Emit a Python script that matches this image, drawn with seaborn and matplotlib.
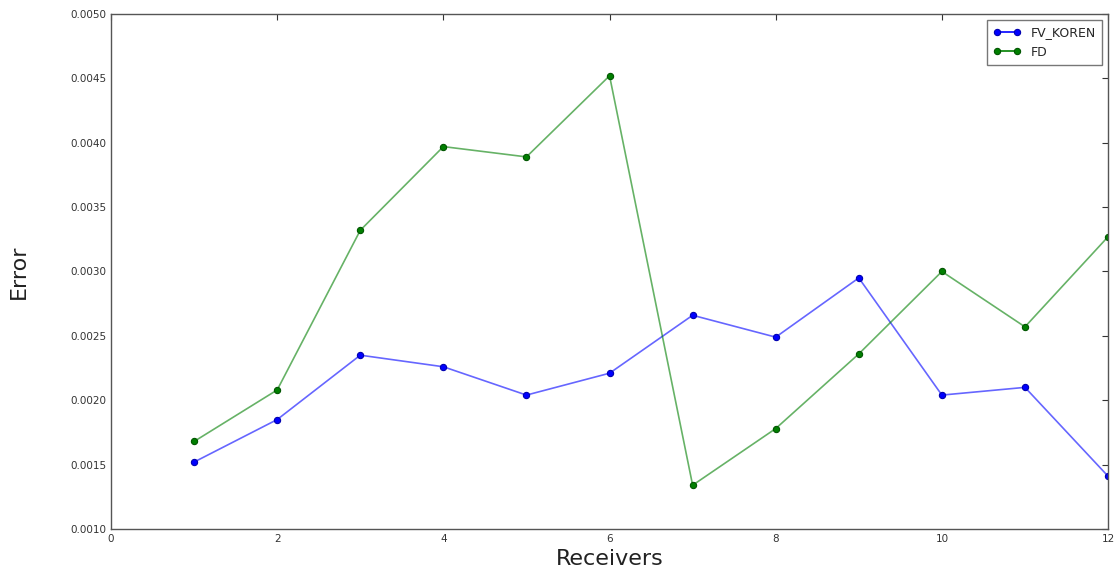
import pandas as pd
import seaborn as sns
import matplotlib.pyplot as plt

# Receiver index and error per method
receivers = [1, 2, 3, 4, 5, 6, 7, 8, 9, 10, 11, 12]
fv_koren = [0.00152, 0.00185, 0.00235, 0.00226, 0.00204, 0.00221,
            0.00266, 0.00249, 0.00295, 0.00204, 0.00210, 0.00141]
fd = [0.00168, 0.00208, 0.00332, 0.00397, 0.00389, 0.00452,
      0.00134, 0.00178, 0.00236, 0.00300, 0.00257, 0.00327]
x_ticks = [0, 2, 4, 6, 8, 10, 12]
y_ticks = [0.0010, 0.0015, 0.0020, 0.0025, 0.0030, 0.0035, 0.0040, 0.0045, 0.0050]

df = pd.DataFrame({
    'Receivers': receivers * 2,
    'Error': fv_koren + fd,
    'Method': ['FV_KOREN'] * len(receivers) + ['FD'] * len(receivers),
})

sns.set_style('white')
fig, ax = plt.subplots(figsize=(11.17, 5.73), dpi=100)
fig.subplots_adjust(left=0.0994, right=0.992, top=0.9756, bottom=0.0768)

palette = {'FV_KOREN': '#0000ff', 'FD': '#007f00'}
edges = {'FV_KOREN': '#0000b0', 'FD': '#005500'}
for name, grp in df.groupby('Method', sort=False):
    col = palette[name]
    sns.lineplot(data=grp, x='Receivers', y='Error', ax=ax, color=col,
                 linewidth=1.2, alpha=0.6, legend=False)
    ax.plot(grp['Receivers'], grp['Error'], linestyle='none', marker='o',
            markersize=4.5, color=col, markeredgecolor=edges[name],
            markeredgewidth=0.8)
    # proxy handle for the legend (line + marker)
    ax.plot([], [], color=col, marker='o', markersize=4.5, linewidth=1.2,
            markeredgecolor=edges[name], markeredgewidth=0.8, label=name)

ax.set_xlim(0, 12)
ax.set_ylim(0.0010, 0.0050)
ax.set_xticks(x_ticks)
ax.set_yticks(y_ticks)
ax.set_yticklabels([f'{v:.4f}' for v in y_ticks])
ax.tick_params(direction='in', top=True, right=True, labelsize=7.5,
               colors='#333333', length=4)
ax.set_xlabel('Receivers', fontsize=16, color='#222222')
ax.set_ylabel('Error', fontsize=16, color='#222222', labelpad=30)
for sp in ax.spines.values():
    sp.set_color('#555555')
    sp.set_linewidth(1)

leg = ax.legend(loc='upper right', fontsize=9, frameon=True, fancybox=False,
                numpoints=2, borderpad=0.5, handlelength=2.2)
leg.get_frame().set_edgecolor('#555555')

plt.savefig('out.png', dpi=100)
plt.close()
